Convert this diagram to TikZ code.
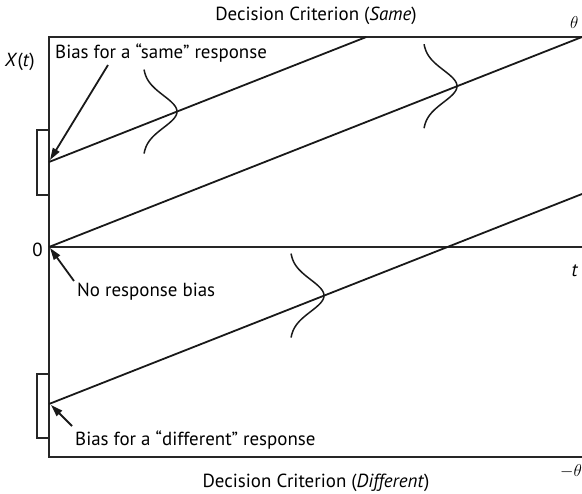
\documentclass[tikz,border=0pt]{standalone}
\usepackage{fontspec}
\setmainfont{PT Sans}
\usetikzlibrary{arrows.meta}
\tikzset{
  frameline/.style={line width=1.5bp, black!85},
  drift/.style={line width=1.8bp, black!90},
  density/.style={line width=1.5bp, black!90},
  bracket/.style={line width=1.5bp, black!85},
  pointer/.style={-{Triangle[length=12bp, width=7.5bp]}, line width=1.8bp, black!90},
  lbl/.style={inner sep=0pt, font=\fontsize{19}{22}\selectfont}
}
\begin{document}
\begin{tikzpicture}[x=1bp, y=1bp]
  \useasboundingbox (-49,-247) rectangle (533,247);
  % frame and axis
  \coordinate (tl) at (0,210);
  \coordinate (tr) at (533,210);
  \coordinate (bl) at (0,-210);
  \coordinate (br) at (533,-210);
  \coordinate (zeroStart) at (0,0);
  \coordinate (zr) at (533,0);
  \draw[frameline] (tr) -- (tl) -- (bl) -- (br);
  \draw[frameline] (zeroStart) -- (zr);
  % bias brackets
  \draw[bracket] (0,117) -- (-12,117) -- (-12,52) -- (0,52);
  \draw[bracket] (0,-127) -- (-12,-127) -- (-12,-191) -- (0,-191);
  % drift lines
  \coordinate (sameStart) at (0,85);
  \coordinate (sameEnd) at (317.3,210);
  \coordinate (diffStart) at (0,-157);
  \coordinate (diffEnd) at (533,53);
  \draw[drift] (sameStart) -- (sameEnd);
  \draw[drift] (zeroStart) -- (tr);
  \draw[drift] (diffStart) -- (diffEnd);
  % sideways normal densities
  \foreach \bx/\yc in {94/135.4, 374/160.8, 241/-48.6}
    \draw[density] plot[domain=-42:42, samples=60, smooth]
      ({\bx+34*exp(-0.5*(\x/16)*(\x/16))}, {\yc+\x});
  % labels
  \node[lbl, anchor=base] (topcrit) at (267,226) {Decision Criterion (\textit{Same})};
  \node[lbl, anchor=base] (botcrit) at (267,-240) {Decision Criterion (\textit{Different})};
  \node[lbl, anchor=west] (theta) at (521,224) {$\theta$};
  \node[lbl, anchor=west] (mtheta) at (511,-224) {$-\theta$};
  \node[lbl, anchor=east] (xt) at (-14,185) {\textit{X}(\textit{t})};
  \node[lbl, anchor=east] (zero) at (-6,-3) {0};
  \node[lbl] (tax) at (526,-24) {\textit{t}};
  \node[lbl, anchor=base west] (samelbl) at (6,188) {Bias for a “same” response};
  \node[lbl, anchor=base west] (nolbl) at (28,-50) {No response bias};
  \node[lbl, anchor=base west] (difflbl) at (26,-198) {Bias for a “different” response};
  % pointers
  \coordinate (sameTail) at (59,182);
  \coordinate (sameTip) at (1,87);
  \coordinate (noTail) at (25,-34);
  \coordinate (noTip) at (1,-1);
  \coordinate (diffTail) at (23,-179);
  \coordinate (diffTip) at (2,-158);
  \draw[pointer] (sameTail) -- (sameTip);
  \draw[pointer] (noTail) -- (noTip);
  \draw[pointer] (diffTail) -- (diffTip);
\end{tikzpicture}
\end{document}
